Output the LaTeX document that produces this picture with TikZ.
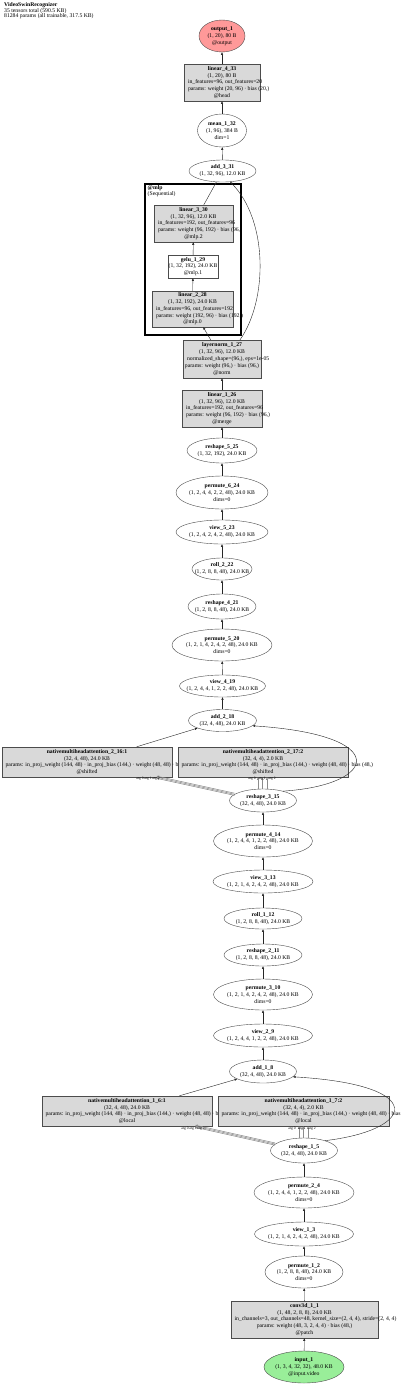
\documentclass[tikz,border=0pt]{standalone}
\usepackage{fontspec}
\setmainfont{Liberation Serif}
\usetikzlibrary{shapes.geometric,arrows.meta}
\definecolor{boxgray}{HTML}{D9D9D9}
\definecolor{outred}{HTML}{FF9999}
\definecolor{ingreen}{HTML}{99EE99}
\newcommand\EN[7][]{\node[ell,#1,minimum width=#5pt,minimum height=#6pt] (#2) at (#3,#4) {};\node[txt] (#2-t) at (#2) {#7};}
\newcommand\BN[7][]{\node[bx,#1,minimum width=#5pt,minimum height=#6pt] (#2) at (#3,#4) {};\node[txt] (#2-t) at (#2) {#7};}
\newcommand\wl[2]{\makebox[#1][l]{#2}}
\newcommand\hd[1]{{\bfseries #1}}
\tikzset{
 ell/.style={ellipse,draw=black!70,line width=0.4pt,inner sep=0pt,fill=white},
 bx/.style={rectangle,draw=black!70,line width=0.4pt,inner sep=0pt,fill=boxgray},
 txt/.style={align=center,inner sep=0pt,font=\fontsize{5.7}{6.8}\selectfont},
 edge/.style={draw=black!85,line width=0.4pt,-{Triangle[length=2.6pt,width=2pt]}},
 medge/.style={draw=black!45,line width=0.55pt,-{Triangle[length=2.6pt,width=2pt]}},
 elab/.style={inner sep=0pt,font=\fontsize{3.6}{3.6}\selectfont},
}
\begin{document}
\begin{tikzpicture}[x=1pt,y=-1pt]
\useasboundingbox[fill=white] (0,0) rectangle (400,1386);
% header
\node[anchor=north west,align=left,inner sep=0pt,font=\fontsize{5.7}{5.2}\selectfont] (hdr) at (4,2)
 {\hd{VideoSwinRecognizer}\\35 tensors total (590.5 KB)\\81284 params (all trainable, 317.5 KB)};
% mlp cluster
\node[draw=black,line width=1.6pt,minimum width=96pt,minimum height=151pt,inner sep=0pt] (mlp) at (193,259.5) {};
\node[anchor=north west,align=left,inner sep=0pt,font=\fontsize{5.7}{5.4}\selectfont] (mlp-t) at (147.5,185.5) {\hd{@mlp}\\(Sequential)};
% nodes
\EN[fill=outred]{out1}{222}{36}{46}{32}{\hd{output\_1}\\(1, 20), 80 B\\@output}
\BN{lin433}{222}{82.5}{76}{37}{\hd{linear\_4\_33}\\(1, 20), 80 B\\\wl{68pt}{in\_features=96, out\_features=20}\\\wl{68pt}{params: weight (20, 96) · bias (20,)}\\@head}
\EN{mean132}{222}{130.5}{49}{33}{\hd{mean\_1\_32}\\(1, 96), 384 B\\dim=1}
\EN{add331}{222.5}{171}{67}{22}{\hd{add\_3\_31}\\(1, 32, 96), 12.0 KB}
\BN{lin330}{193.5}{223.5}{79}{37}{\hd{linear\_3\_30}\\(1, 32, 96), 12.0 KB\\\wl{71pt}{in\_features=192, out\_features=96}\\\wl{71pt}{params: weight (96, 192) · bias (96,)}\\@mlp.2}
\BN[fill=white]{gelu129}{193}{266.5}{50}{23}{\hd{gelu\_1\_29}\\(1, 32, 192), 24.0 KB\\@mlp.1}
\BN{lin228}{192.5}{309}{81}{36}{\hd{linear\_2\_28}\\(1, 32, 192), 24.0 KB\\\wl{73pt}{in\_features=96, out\_features=192}\\\wl{73pt}{params: weight (192, 96) · bias (192,)}\\@mlp.0}
\BN{ln127}{222}{359}{78}{38}{\hd{layernorm\_1\_27}\\(1, 32, 96), 12.0 KB\\\wl{70pt}{normalized\_shape=(96,), eps=1e-05}\\params: weight (96,) · bias (96,)\\@norm}
\BN{lin126}{222}{408.5}{80}{37}{\hd{linear\_1\_26}\\(1, 32, 96), 12.0 KB\\\wl{72pt}{in\_features=192, out\_features=96}\\\wl{72pt}{params: weight (96, 192) · bias (96,)}\\@merge}
\EN{r525}{222}{450.5}{70}{25}{\hd{reshape\_5\_25}\\(1, 32, 192), 24.0 KB}
\EN{p624}{222}{492.5}{92}{33}{\hd{permute\_6\_24}\\(1, 2, 4, 4, 2, 2, 48), 24.0 KB\\dims=0}
\EN{v523}{222}{532}{92}{24}{\hd{view\_5\_23}\\(1, 2, 4, 2, 4, 2, 48), 24.0 KB}
\EN{roll222}{222}{569}{60}{22}{\hd{roll\_2\_22}\\(1, 2, 8, 8, 48), 24.0 KB}
\EN{r421}{222}{606.5}{68}{25}{\hd{reshape\_4\_21}\\(1, 2, 8, 8, 48), 24.0 KB}
\EN{p520}{222}{645}{100}{32}{\hd{permute\_5\_20}\\(1, 2, 1, 4, 2, 4, 2, 48), 24.0 KB\\dims=0}
\EN{v419}{222.5}{686}{86}{22}{\hd{view\_4\_19}\\(1, 2, 4, 4, 1, 2, 2, 48), 24.0 KB}
\EN{add218}{222.5}{720.5}{68}{22}{\hd{add\_2\_18}\\(32, 4, 48), 24.0 KB}
\BN{m216}{87}{762}{170}{30}{\hd{nativemultiheadattention\_2\_16:1}\\(32, 4, 48), 24.0 KB\\\wl{163pt}{params: in\_proj\_weight (144, 48) · in\_proj\_bias (144,) · weight (48, 48) · bia}\\@shifted}
\BN{m217}{263}{762}{170}{30}{\hd{nativemultiheadattention\_2\_17:2}\\(32, 4, 4), 2.0 KB\\\wl{163pt}{params: in\_proj\_weight (144, 48) · in\_proj\_bias (144,) · weight (48, 48) · bias (48,)}\\@shifted}
\EN{r315}{263}{800.5}{67}{23}{\hd{reshape\_3\_15}\\(32, 4, 48), 24.0 KB}
\EN{p414}{263}{841}{99}{32}{\hd{permute\_4\_14}\\(1, 2, 4, 4, 1, 2, 2, 48), 24.0 KB\\dims=0}
\EN{v313}{263}{881.5}{100}{23}{\hd{view\_3\_13}\\(1, 2, 1, 4, 2, 4, 2, 48), 24.0 KB}
\EN{roll112}{263}{918.5}{78}{21}{\hd{roll\_1\_12}\\(1, 2, 8, 8, 48), 24.0 KB}
\EN{r211}{263}{955}{78}{22}{\hd{reshape\_2\_11}\\(1, 2, 8, 8, 48), 24.0 KB}
\EN{p310}{263}{994.5}{99}{31}{\hd{permute\_3\_10}\\(1, 2, 1, 4, 2, 4, 2, 48), 24.0 KB\\dims=0}
\EN{v29}{263}{1035.5}{99}{23}{\hd{view\_2\_9}\\(1, 2, 4, 4, 1, 2, 2, 48), 24.0 KB}
\EN{add18}{263}{1071.5}{67}{23}{\hd{add\_1\_8}\\(32, 4, 48), 24.0 KB}
\BN{m16}{127}{1111}{170}{30}{\hd{nativemultiheadattention\_1\_6:1}\\(32, 4, 48), 24.0 KB\\\wl{163pt}{params: in\_proj\_weight (144, 48) · in\_proj\_bias (144,) · weight (48, 48) · bia}\\@local}
\BN{m17}{303.5}{1111}{171}{30}{\hd{nativemultiheadattention\_1\_7:2}\\(32, 4, 4), 2.0 KB\\\wl{164pt}{params: in\_proj\_weight (144, 48) · in\_proj\_bias (144,) · weight (48, 48) · bias}\\@local}
\EN{r15}{304}{1150.5}{67}{25}{\hd{reshape\_1\_5}\\(32, 4, 48), 24.0 KB}
\EN{p24}{304}{1192.5}{100}{31}{\hd{permute\_2\_4}\\(1, 2, 4, 4, 1, 2, 2, 48), 24.0 KB\\dims=0}
\EN{v13}{304}{1234}{99}{24}{\hd{view\_1\_3}\\(1, 2, 1, 4, 2, 4, 2, 48), 24.0 KB}
\EN{p12}{304}{1272}{78}{32}{\hd{permute\_1\_2}\\(1, 2, 8, 8, 48), 24.0 KB\\dims=0}
\BN{conv}{304.5}{1319.5}{147}{37}{\hd{conv3d\_1\_1}\\(1, 48, 2, 8, 8), 24.0 KB\\\wl{140pt}{in\_channels=3, out\_channels=48, kernel\_size=(2, 4, 4), stride=(2, 4, 4)}\\params: weight (48, 3, 2, 4, 4) · bias (48,)\\@patch}
\EN[fill=ingreen]{in1}{304}{1367}{80}{32}{\hd{input\_1}\\(1, 3, 4, 32, 32), 48.0 KB\\@input.video}
% edges: lower chain
\draw[edge] (in1) -- (conv);
\draw[edge] (conv) -- (p12);
\draw[edge] (p12) -- (v13);
\draw[edge] (v13) -- (p24);
\draw[edge] (p24) -- (r15);
\draw[medge,transform canvas={yshift=1.1pt}] (r15) -- (m16);
\draw[medge] (r15) -- (m16);
\draw[medge,transform canvas={yshift=-1.1pt}] (r15) -- (m16);
\draw[medge] ([xshift=-5pt]r15.north) -- ([xshift=-5pt]r15.north |- m17.south);
\draw[medge] ([xshift=-0.5pt]r15.north) -- ([xshift=-0.5pt]r15.north |- m17.south);
\draw[medge] ([xshift=4pt]r15.north) -- ([xshift=4pt]r15.north |- m17.south);
\node[elab] (l16a) at (185,1129) {arg 0};
\node[elab] (l16b) at (193,1129) {arg 1};
\node[elab] (l16c) at (201,1129) {arg 2};
\node[elab] (l17a) at (292,1128.5) {arg 0};
\node[elab] (l17b) at (302,1128.5) {arg 1};
\node[elab] (l17c) at (312,1128.5) {arg 2};
\draw[edge] (r15.25) .. controls (415,1130) and (430,1085) .. (add18.-10);
\draw[edge] (m16) -- (add18);
% middle chain
\draw[edge] (add18) -- (v29);
\draw[edge] (v29) -- (p310);
\draw[edge] (p310) -- (r211);
\draw[edge] (r211) -- (roll112);
\draw[edge] (roll112) -- (v313);
\draw[edge] (v313) -- (p414);
\draw[edge] (p414) -- (r315);
\draw[medge,transform canvas={yshift=1.1pt}] (r315) -- (m216);
\draw[medge] (r315) -- (m216);
\draw[medge,transform canvas={yshift=-1.1pt}] (r315) -- (m216);
\draw[medge] ([xshift=-5pt]r315.north) -- ([xshift=-5pt]r315.north |- m217.south);
\draw[medge] ([xshift=-0.5pt]r315.north) -- ([xshift=-0.5pt]r315.north |- m217.south);
\draw[medge] ([xshift=4pt]r315.north) -- ([xshift=4pt]r315.north |- m217.south);
\node[elab] (l216a) at (140,779) {arg 0};
\node[elab] (l216b) at (148,779) {arg 1};
\node[elab] (l216c) at (156,779) {arg 2};
\node[elab] (l217a) at (252,779) {arg 0};
\node[elab] (l217b) at (262,779) {arg 1};
\node[elab] (l217c) at (272,779) {arg 2};
\draw[edge] (r315.25) .. controls (378,785) and (393,735) .. (add218.-10);
\draw[edge] (m216) -- (add218);
% upper chain
\draw[edge] (add218) -- (v419);
\draw[edge] (v419) -- (p520);
\draw[edge] (p520) -- (r421);
\draw[edge] (r421) -- (roll222);
\draw[edge] (roll222) -- (v523);
\draw[edge] (v523) -- (p624);
\draw[edge] (p624) -- (r525);
\draw[edge] (r525) -- (lin126);
\draw[edge] (lin126) -- (ln127);
\draw[edge] (ln127) -- (lin228);
\draw[edge] (lin228) -- (gelu129);
\draw[edge] (gelu129) -- (lin330);
\draw[edge] (lin330) -- (add331);
\draw[edge] ([xshift=18pt]ln127.north) .. controls (268,300) and (268,220) .. (add331.-55);
\draw[edge] (add331) -- (mean132);
\draw[edge] (mean132) -- (lin433);
\draw[edge] (lin433) -- (out1);
\end{tikzpicture}
\end{document}
